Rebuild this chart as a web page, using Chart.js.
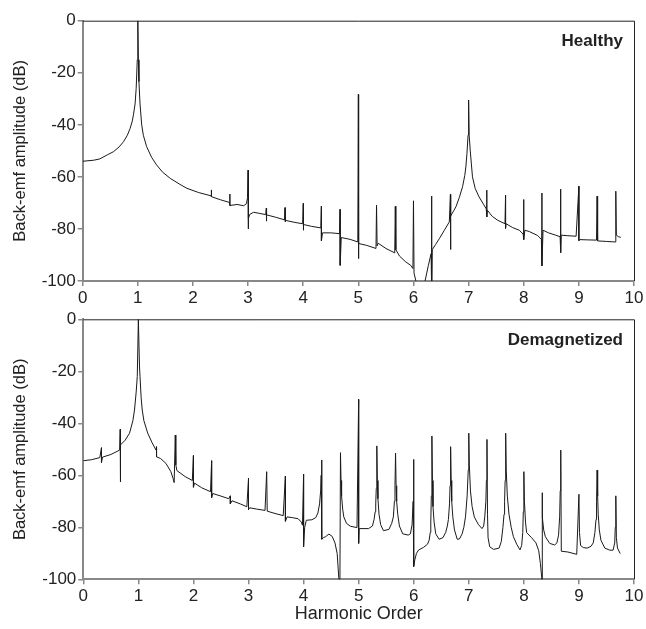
<!DOCTYPE html>
<html>
<head>
<meta charset="utf-8">
<script src="https://cdn.jsdelivr.net/npm/chart.js@4/dist/chart.umd.min.js"></script>
<style>
  body { margin: 0; background: #fff; }
  #wrap { position: relative; width: 646px; height: 629px; }
  canvas { position: absolute; left: 0; }
</style>
</head>
<body>
<div id="wrap">
  <canvas id="healthyChart" width="646" height="310" style="top:0"></canvas>
  <canvas id="demagChart" width="646" height="329" style="top:300px"></canvas>
</div>
<script>
// harmonic order (x) and amplitude in dB (y)
const healthyX = [0, 0.2, 0.31, 0.45, 0.56, 0.66, 0.74, 0.81, 0.86, 0.9, 0.92, 0.95, 0.97, 0.99, 1.0, 1.01, 1.02, 1.04, 1.07, 1.1, 1.16, 1.25, 1.34, 1.45, 1.59, 1.75, 1.89, 2.1, 2.33, 2.33, 2.34, 2.5, 2.66, 2.67, 2.67, 2.8, 2.92, 2.97, 2.99, 3.0, 3.0, 3.01, 3.03, 3.1, 3.2, 3.32, 3.33, 3.33, 3.34, 3.5, 3.66, 3.67, 3.67, 3.68, 3.85, 3.99, 4.0, 4.0, 4.01, 4.15, 4.32, 4.33, 4.33, 4.35, 4.5, 4.66, 4.67, 4.67, 4.69, 4.85, 4.99, 5.0, 5.0, 5.01, 5.15, 5.32, 5.33, 5.34, 5.36, 5.5, 5.66, 5.67, 5.68, 5.75, 5.85, 5.95, 5.99, 6.0, 6.01, 6.05, 6.12, 6.21, 6.27, 6.32, 6.33, 6.33, 6.34, 6.4, 6.47, 6.56, 6.65, 6.67, 6.67, 6.68, 6.73, 6.77, 6.83, 6.89, 6.93, 6.95, 6.97, 6.99, 7.0, 7.01, 7.03, 7.05, 7.07, 7.12, 7.19, 7.27, 7.32, 7.33, 7.33, 7.34, 7.43, 7.53, 7.66, 7.67, 7.67, 7.68, 7.8, 7.92, 7.99, 8.0, 8.0, 8.02, 8.1, 8.25, 8.32, 8.33, 8.33, 8.35, 8.45, 8.58, 8.66, 8.67, 8.67, 8.68, 8.8, 8.95, 9.0, 9.0, 9.02, 9.15, 9.32, 9.33, 9.34, 9.5, 9.66, 9.67, 9.68, 9.72, 9.76];
const healthyY = [-54, -53.6, -53.1, -51.5, -50.3, -48.5, -46.5, -44, -41.4, -38.5, -36.2, -32, -26, -15, 0, -15, -23.4, -32, -40, -44, -48.4, -52.5, -55.4, -58.2, -60.6, -62.7, -64.4, -66, -67.3, -65, -67.6, -68.8, -69.8, -66.6, -71, -70.6, -71.1, -70.3, -68, -57.4, -80, -76, -74.4, -73.6, -74, -74.5, -72, -77, -74.6, -75.5, -76.5, -71.8, -77.3, -76.7, -77.5, -78, -70.2, -80.5, -78.3, -79, -79.6, -71.3, -84.6, -81.5, -81.5, -81.8, -72.5, -94, -83.3, -84, -85, -28.3, -91.4, -85.6, -86.3, -87.5, -70.9, -86.5, -85.5, -87.5, -89.2, -71.3, -88, -90.5, -92.5, -94, -95.2, -69.2, -97, -100.5, -108, -100, -94, -89.5, -67.4, -105, -88, -86, -83.7, -80.5, -77.3, -66.7, -87.9, -75, -73, -71.5, -68, -63.8, -59.5, -56.2, -51, -44, -30.5, -44, -50, -55, -60, -64.5, -67.7, -70.5, -72.3, -65.1, -75.4, -72.8, -75.2, -76.7, -78, -67, -79.8, -78, -79.5, -80.5, -82, -68.7, -84.1, -80.5, -81, -82.5, -84, -66.2, -94.2, -80.5, -81.5, -82.4, -83, -64.7, -89.1, -82.4, -82.6, -82.8, -63.6, -84.5, -84.1, -84.2, -84.3, -67.4, -84.6, -84.8, -85, -65.5, -82.4, -83, -83.2];

const demagX = [
  0, 0.15, 0.3, 0.33, 0.33, 0.35, 0.5, 0.66, 0.67, 0.67, 0.68,
  0.76, 0.84, 0.9, 0.93, 0.96, 0.98, 1.0, 1.02, 1.03, 1.05, 1.07, 1.1, 1.17, 1.25,
  1.32, 1.33, 1.33, 1.4, 1.5, 1.59, 1.63, 1.65, 1.67, 1.68, 1.7, 1.85,
  1.98, 2.0, 2.0, 2.02, 2.15, 2.31, 2.33, 2.33, 2.35, 2.5,
  2.64, 2.67, 2.67, 2.7, 2.85, 2.97, 3.0, 3.0, 3.02, 3.15,
  3.3, 3.33, 3.34, 3.5, 3.63, 3.67, 3.67, 3.7, 3.8, 3.9, 3.96, 3.98,
  4.0, 4.0, 4.02, 4.05, 4.15, 4.22, 4.26, 4.29, 4.31, 4.32,
  4.33, 4.33, 4.36, 4.4, 4.46, 4.52, 4.57, 4.61, 4.64, 4.66,
  4.67, 4.68, 4.69, 4.71, 4.73, 4.78, 4.85, 4.97,
  5.0, 5.0, 5.01, 5.18, 5.25, 5.28, 5.3, 5.31, 5.32,
  5.33, 5.34, 5.35, 5.37, 5.4, 5.45, 5.55, 5.6, 5.63, 5.65, 5.66,
  5.67, 5.68, 5.69, 5.71, 5.74, 5.8, 5.9, 5.94, 5.97, 5.99,
  6.0, 6.0, 6.02, 6.05, 6.09, 6.18, 6.25, 6.28, 6.3, 6.31, 6.32,
  6.33, 6.34, 6.35, 6.37, 6.4, 6.46, 6.53, 6.58, 6.61, 6.63, 6.65, 6.66,
  6.67, 6.68, 6.69, 6.71, 6.74, 6.79, 6.83, 6.88, 6.91, 6.94, 6.97, 6.99,
  7.0, 7.01, 7.03, 7.06, 7.1, 7.17, 7.24, 7.27, 7.29, 7.31, 7.32,
  7.33, 7.34, 7.35, 7.38, 7.45, 7.55, 7.59, 7.62, 7.64, 7.65, 7.66,
  7.67, 7.68, 7.7, 7.73, 7.77, 7.81, 7.87, 7.93, 7.96, 7.98, 7.99,
  8.0, 8.01, 8.03, 8.05, 8.14, 8.22, 8.27, 8.3,
  8.33, 8.33, 8.34, 8.36, 8.39, 8.47, 8.56, 8.6, 8.63, 8.65, 8.66,
  8.67, 8.68, 8.8, 8.96,
  9.0, 9.01, 9.03, 9.08, 9.15, 9.22, 9.26, 9.29, 9.31, 9.32,
  9.33, 9.34, 9.35, 9.37, 9.4, 9.47, 9.56, 9.62, 9.65, 9.66,
  9.67, 9.68, 9.7, 9.75
];
const demagY = [
  -54.4, -54, -53.2, -49.4, -55.1, -53, -52, -50.3, -42.3, -62.5, -48.3,
  -46.5, -43.8, -39, -34.9, -28, -22, 0, -18, -22, -30, -34.9, -39, -43.8, -47.5,
  -50.3, -49, -52.9, -53.5, -55.4, -58.6, -61.2, -62.8, -44.5, -56, -58.2, -60.5,
  -62, -52.4, -64.6, -63, -64.8, -66.3, -54.4, -68.6, -67, -68,
  -69, -67.9, -71, -69.8, -71, -72.1, -61.2, -73.2, -72.5, -73,
  -73.5, -58.6, -73.8, -74.8, -75.5, -60.3, -77.7, -76, -76.3, -76.7, -78, -79.2,
  -59.6, -87.5, -80, -77.3, -77.1, -76.3, -74.5, -71, -66, -60,
  -54.1, -84.6, -84, -83.6, -82.6, -83.5, -86, -90.1, -99.6, -101,
  -51.3, -62, -68, -73, -76, -78.5, -79.6, -80.1,
  -30.8, -86.2, -80.5, -80.5, -79.5, -77, -74, -71, -65,
  -48.7, -62, -69, -75, -79, -81.3, -80.8, -78.5, -76, -70, -64,
  -51.5, -64, -70, -75, -79.5, -82.5, -83, -82.5, -79, -70,
  -53.9, -95.1, -92.5, -90, -88.7, -87.7, -86.5, -85, -82, -78, -68,
  -44.9, -62, -72, -78, -82.5, -84.6, -84, -82, -79.5, -77, -71, -64,
  -49, -62, -70, -76, -81, -84.6, -84.5, -82.5, -80, -76, -68, -58,
  -43.8, -56, -66, -72, -76, -78.8, -80.5, -79.5, -76, -70, -62,
  -46.2, -75, -84, -87.5, -88.5, -88, -85.5, -80, -75, -70, -62,
  -43.8, -58, -68, -75, -80, -83.6, -86.5, -88.7, -87, -82, -74,
  -58.6, -70, -78, -82, -84, -86, -89, -93.9,
  -100.5, -66.7, -76, -81, -83.6, -86.2, -86.8, -86, -83, -76, -66,
  -50.3, -89.2, -89.5, -90.4,
  -67.3, -82, -87, -87.8, -88, -87.3, -86, -82, -77, -70,
  -58, -68, -75, -81, -85, -88, -88.8, -88.8, -86, -80,
  -67.9, -84, -88, -90.1
];

const xTicks = [0, 1, 2, 3, 4, 5, 6, 7, 8, 9, 10];
const yTicks = [0, -20, -40, -60, -80, -100];

const FONT = "'Liberation Sans', Arial, sans-serif";

// frame on top/right and the panel label
const panelPlugin = {
  id: "panel",
  afterDraw(chart, args, opts) {
    const { ctx, chartArea: a } = chart;
    ctx.save();
    ctx.strokeStyle = "#222";
    ctx.lineWidth = 1;
    ctx.beginPath();
    ctx.moveTo(a.left, a.top + 0.5);
    ctx.lineTo(a.right + 0.5, a.top + 0.5);
    ctx.lineTo(a.right + 0.5, a.bottom);
    ctx.stroke();
    ctx.fillStyle = "#222";
    ctx.font = "bold 17px " + FONT;
    ctx.textAlign = "right";
    ctx.textBaseline = "middle";
    ctx.fillText(opts.text, a.right - 11, a.top + opts.dy);
    ctx.restore();
  },
};

function makeChart(id, xs, ys, label, leftW, xH, padTop, showTitle) {
  const points = xs.map((x, i) => ({ x: x, y: ys[i] }));
  return new Chart(document.getElementById(id), {
    type: "line",
    data: {
      datasets: [
        {
          data: points,
          borderColor: "#1a1a1a",
          borderWidth: 1,
          pointRadius: 0,
          tension: 0,
          fill: false,
        },
      ],
    },
    options: {
      responsive: false,
      animation: false,
      events: [],
      layout: { padding: { top: padTop, right: 12, left: 0, bottom: 0 } },
      plugins: {
        legend: { display: false },
        tooltip: { enabled: false },
        panel: { text: label, dy: 21 },
      },
      scales: {
        x: {
          type: "linear",
          min: 0,
          max: 10,
          afterBuildTicks: (s) => { s.ticks = xTicks.map((v) => ({ value: v })); },
          afterFit: (s) => { s.height = xH; },
          grid: { drawOnChartArea: false, tickLength: 5, color: "#888", lineWidth: 1.5 },
          border: { color: "#888", width: 2 },
          ticks: { color: "#222", font: { family: FONT, size: 17 }, padding: 2, maxRotation: 0 },
          title: {
            display: showTitle,
            text: "Harmonic Order",
            color: "#222",
            font: { family: FONT, size: 18 },
            padding: { top: 0, bottom: 4 },
          },
        },
        y: {
          min: -100,
          max: 0,
          afterBuildTicks: (s) => { s.ticks = yTicks.map((v) => ({ value: v })); },
          afterFit: (s) => { s.width = leftW; },
          grid: { drawOnChartArea: false, tickLength: 5, color: "#888", lineWidth: 1.5 },
          border: { color: "#888", width: 2 },
          ticks: { color: "#222", font: { family: FONT, size: 17 }, padding: 2 },
          title: {
            display: true,
            text: "Back-emf amplitude (dB)",
            color: "#222",
            font: { family: FONT, size: 16.5 },
            padding: { top: 11, bottom: 0 },
          },
        },
      },
    },
    plugins: [panelPlugin],
  });
}

makeChart("healthyChart", healthyX, healthyY, "Healthy", 82.7, 29, 20.7, false);
makeChart("demagChart", demagX, demagY, "Demagnetized", 83.3, 49.7, 19.3, true);
</script>
</body>
</html>
